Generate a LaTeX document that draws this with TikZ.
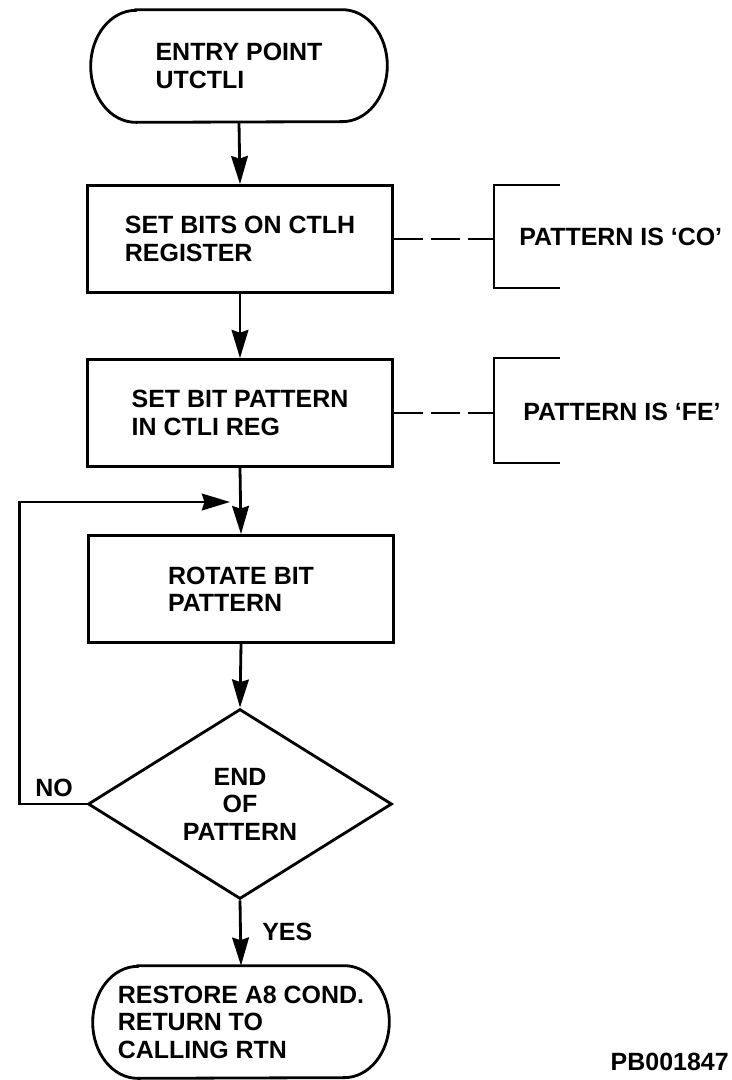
\documentclass[tikz,border=0pt]{standalone}
\usepackage{fontspec}
\setmainfont{Liberation Sans}
\usetikzlibrary{arrows.meta, shapes.geometric}

%% outline of a terminal (flattened round ends)
\newcommand{\termpath}[1]{%
  \draw[line] ([xshift=0.9cm]#1.north west) -- ([xshift=-0.9cm]#1.north east)
    arc[start angle=90, end angle=-90, x radius=0.9cm, y radius=1.12cm]
    -- ([xshift=0.9cm]#1.south west)
    arc[start angle=270, end angle=90, x radius=0.9cm, y radius=1.12cm]
    -- cycle;}

\begin{document}
\begin{tikzpicture}[
  x=0.02cm, y=-0.02cm,
  every node/.style={font=\fontsize{14.2}{15.6}\selectfont\bfseries},
  line/.style={line width=1.6pt},
  term/.style={minimum width=5.92cm, minimum height=2.24cm, inner sep=0pt,
               align=left},
  box/.style={draw, line width=1.6pt, minimum width=6.1cm,
              minimum height=2.14cm, inner sep=0pt, align=left},
  test/.style={draw, line width=1.6pt, diamond, aspect=1.6,
               minimum width=6.08cm, minimum height=3.8cm, inner sep=0pt,
               align=center},
  note/.style={anchor=west, inner sep=0pt},
  lbl/.style={inner sep=0pt},
  arr/.style={-{Stealth[length=16pt, width=9.5pt, inset=1.5pt]},
              line width=1.6pt},
  link/.style={line width=1.6pt, dash pattern=on 0.58cm off 0.16cm},
  brkt/.style={line width=1.6pt},
]
  \useasboundingbox (0,0) rectangle (732,1080);

  %% ── Entry ──
  \node[term] (entry) at (239,66) {ENTRY POINT\\UTCTLI};
  \termpath{entry}

  %% ══════════════════════════════════════════════════════
  %% Process boxes
  \node[box] (setctlh) at (240,239) {SET BITS ON CTLH\\REGISTER};
  \node[box] (setctli) at (240,413) {SET BIT PATTERN\\IN CTLI REG};
  \node[box] (rotate)  at (241,589) {ROTATE BIT\\PATTERN};

  %% Decision
  \node[test] (endpat) at (240,804) {END\\OF\\PATTERN};

  %% ── Exit ──
  \node[term] (restore) at (241,1022)
    {RESTORE A8 COND.\\RETURN TO\\CALLING RTN};
  \termpath{restore}

  %% ══════════════════════════════════════════════════════
  %% Annotations (bracket + dashed link)
  \coordinate (brk_co) at (494,239);
  \coordinate (brk_fe) at (494,413);
  \draw[brkt] (brk_co) ++(66,-54) -- ++(-66,0) -- ++(0,103) -- ++(66,0);
  \draw[brkt] (brk_fe) ++(66,-55) -- ++(-66,0) -- ++(0,105) -- ++(66,0);
  \node[note] (pat_co) at (519,237) {PATTERN IS `CO'};
  \node[note] (pat_fe) at (523,412) {PATTERN IS `FE'};
  \draw[link] (setctlh.east) -- (brk_co);
  \draw[link] (setctli.east) -- (brk_fe);

  %% ══════════════════════════════════════════════════════
  %% ═══ FLOW ARROWS ═══
  \draw[arr] (entry.south)   -- (setctlh.north);
  \draw[arr] (setctlh.south) -- (setctli.north);
  \draw[arr] (setctli.south) -- (rotate.north);
  \draw[arr] (rotate.south)  -- (endpat.north);
  \draw[arr] (endpat.south)  -- (restore.north);

  %% NO: loop back above rotate
  \coordinate (merge) at (230,502);
  \draw[arr] (endpat.west) -- ++(-67,0) |- (merge);

  \node[lbl] (no)  at (54,788) {NO};
  \node[lbl, anchor=west] (yes) at (262,932) {YES};

  %% figure id
  \node[lbl, anchor=east] (figid) at (729,1062) {PB001847};
\end{tikzpicture}
\end{document}
